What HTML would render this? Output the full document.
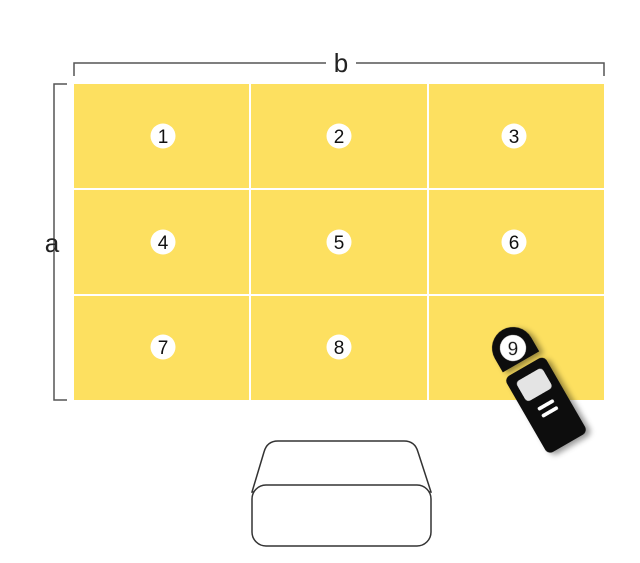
<!DOCTYPE html>
<html><head><meta charset="utf-8"><style>
html,body{margin:0;padding:0;background:#fff;width:640px;height:563px;overflow:hidden}
</style></head><body>
<svg width="640" height="563" viewBox="0 0 640 563" xmlns="http://www.w3.org/2000/svg" font-family="Liberation Sans, sans-serif">
<defs><filter id="sh" x="-50%" y="-50%" width="200%" height="200%"><feDropShadow dx="3" dy="4" stdDeviation="3" flood-color="#000" flood-opacity="0.4"/></filter></defs>
<rect x="74" y="84" width="530" height="316" fill="#FDE060"/>
<g stroke="#fff" stroke-width="2">
<line x1="250" y1="84" x2="250" y2="400"/><line x1="428" y1="84" x2="428" y2="400"/>
<line x1="74" y1="189" x2="604" y2="189"/><line x1="74" y1="295" x2="604" y2="295"/>
</g>
<g fill="none" stroke="#555" stroke-width="1.5">
<path d="M74 76 V63 H326 M356 63 H604 V76"/>
<path d="M67 84 H54 V400 H67"/>
</g>
<text x="341" y="72" font-size="26" text-anchor="middle" fill="#222">b</text>
<text x="52" y="252" font-size="26" text-anchor="middle" fill="#222">a</text>
<g font-size="19" text-anchor="middle" fill="#111">
<circle cx="163" cy="136" r="12.5" fill="#fff"/><text x="163" y="143">1</text>
<circle cx="339" cy="136" r="12.5" fill="#fff"/><text x="339" y="143">2</text>
<circle cx="514" cy="136" r="12.5" fill="#fff"/><text x="514" y="143">3</text>
<circle cx="163" cy="242" r="12.5" fill="#fff"/><text x="163" y="249">4</text>
<circle cx="339" cy="242" r="12.5" fill="#fff"/><text x="339" y="249">5</text>
<circle cx="514" cy="242" r="12.5" fill="#fff"/><text x="514" y="249">6</text>
<circle cx="163" cy="347" r="12.5" fill="#fff"/><text x="163" y="354">7</text>
<circle cx="339" cy="347" r="12.5" fill="#fff"/><text x="339" y="354">8</text>
</g>
<g transform="translate(513,348) rotate(-30)" filter="url(#sh)">
<path d="M-21 0 A21 21 0 0 1 21 0 V16 H-21 Z" fill="#111"/>
<circle cx="0" cy="0" r="13" fill="#fff"/>
<text x="0" y="7" font-size="19" text-anchor="middle" fill="#111" transform="rotate(30)">9</text>
<rect x="-23" y="22" width="46" height="88" rx="6" fill="#111"/>
<rect x="-15" y="31" width="30" height="23" rx="4" fill="#e4e4e4"/>
<rect x="-9" y="64" width="18" height="3.5" rx="1.5" fill="#fff"/>
<rect x="-9" y="72" width="18" height="3.5" rx="1.5" fill="#fff"/>
</g>
<g fill="#fff" stroke="#333" stroke-width="1.5">
<path d="M252 492 L264 452 Q267 441 278 441 H404 Q415 441 418 452 L431 492 Z"/>
<rect x="252" y="485" width="179" height="61" rx="14"/>
</g>
</svg>
</body></html>
